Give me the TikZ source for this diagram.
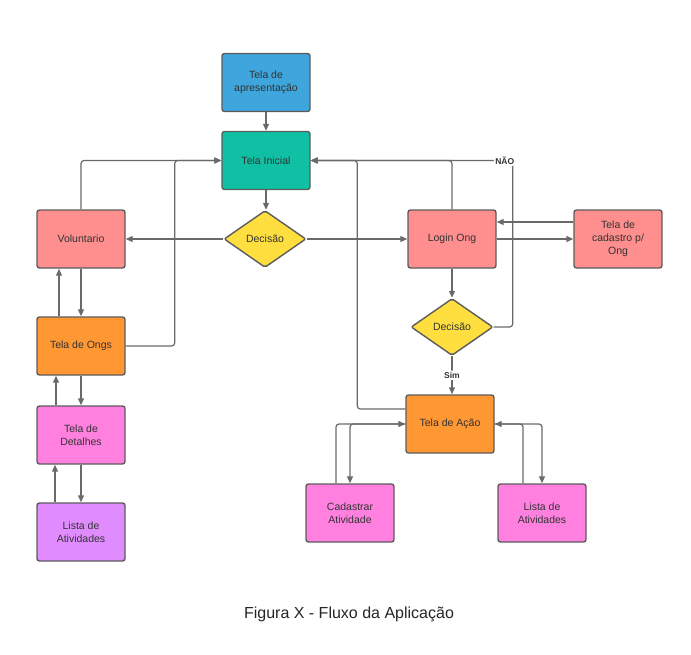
\documentclass[tikz,border=0pt]{standalone}
\usepackage{fontspec}
\setmainfont{Liberation Sans}
\usepackage{tikz}
\usetikzlibrary{positioning,
				arrows.meta,
				shapes.geometric}
\definecolor{azul}{HTML}{3EA6DC}
\definecolor{verde}{HTML}{10C0A4}
\definecolor{amarelo}{HTML}{FFDF40}
\definecolor{salmao}{HTML}{FF8E8E}
\definecolor{laranja}{HTML}{FF9833}
\definecolor{rosa}{HTML}{FF80DF}
\definecolor{lilas}{HTML}{E08CFF}
\definecolor{borda}{HTML}{5C5C5C}
\definecolor{linha}{HTML}{6A6A6A}
\definecolor{texto}{HTML}{333333}

\begin{document}
\begin{tikzpicture}[x=1pt,y=-1pt,
  caixa/.style={draw=borda, line width=1.4pt, rounded corners=2.5pt,
    minimum width=88pt, minimum height=58pt, align=center,
    font=\fontsize{10.5}{13}\selectfont, text=texto},
  losango/.style={diamond, draw=borda, line width=1.4pt, rounded corners=2pt,
    minimum width=82pt, minimum height=57pt, inner sep=0pt, fill=amarelo,
    font=\fontsize{10.5}{13}\selectfont, text=texto},
  seta/.style={draw=linha, line width=1.2pt, rounded corners=3pt,
    -{Triangle[length=7pt,width=6pt]}},
  rot/.style={font=\fontsize{8.5}{10}\selectfont\bfseries, text=texto,
    fill=white, inner sep=1.5pt}]
  \useasboundingbox (0,0) rectangle (691,654);

  % left column
  \node[caixa, fill=azul] (apres) at (266,82.5) {Tela de\\apresentação};
  \node[caixa, fill=verde] (inicial) at (266,160.5) {Tela Inicial};
  \node[losango] (dec1) at (265,239) {Decisão};
  \node[caixa, fill=salmao] (volunt) at (81,239) {Voluntario};
  \node[caixa, fill=laranja] (ongs) at (81,346) {Tela de Ongs};
  \node[caixa, fill=rosa] (detalhes) at (81,435) {Tela de\\Detalhes};
  \node[caixa, fill=lilas] (listaA) at (81,532) {Lista de\\Atividades};

  % right column
  \node[caixa, fill=salmao] (login) at (452,239) {Login Ong};
  \node[caixa, fill=salmao] (cadastro) at (618,239) {Tela de\\cadastro p/\\Ong};
  \node[losango] (dec2) at (452,327) {Decisão};
  \node[caixa, fill=laranja] (acao) at (450,424) {Tela de Ação};
  \node[caixa, fill=rosa] (cadAtiv) at (350,513) {Cadastrar\\Atividade};
  \node[caixa, fill=rosa] (listaB) at (542,513) {Lista de\\Atividades};

  \node[font=\fontsize{16}{19}\selectfont, text=black!85] (legenda) at (349,614)
    {Figura X - Fluxo da Aplicação};

  % connectors
  \draw[seta] (apres.south) -- (inicial.north);
  \draw[seta] (inicial.south) -- (inicial.south |- dec1.north);
  \draw[seta] (dec1.west) -- (volunt.east);
  \draw[seta] (dec1.east) -- (login.west);
  \draw[seta] (volunt.north) |- (inicial.west);
  \draw[seta] (ongs.east) -- ++(49,0) |- (inicial.west);

  \draw[seta] (volunt.south) -- (ongs.north);
  \draw[seta] ([xshift=-22pt]ongs.north) -- ([xshift=-22pt]volunt.south);
  \draw[seta] (ongs.south) -- (detalhes.north);
  \draw[seta] ([xshift=-25pt]detalhes.north) -- ([xshift=-25pt]ongs.south);
  \draw[seta] (detalhes.south) -- (listaA.north);
  \draw[seta] ([xshift=-26pt]listaA.north) -- ([xshift=-26pt]detalhes.south);

  \draw[seta] (login.north) |- (inicial.east);
  \draw[seta] ([yshift=15pt]acao.west) -- ++(-48,0) |- (inicial.east);
  \draw[seta] (dec2.east) -- ++(19,0) |- node[rot, xshift=-8pt]{NÃO} (inicial.east);

  \draw[seta] (login.east) -- (cadastro.west);
  \draw[seta] ([yshift=17pt]cadastro.west) -- ([yshift=17pt]login.east);
  \draw[seta] (login.south) -- (dec2.north);
  \draw[seta] (dec2.south) -- node[rot]{Sim} (dec2.south |- acao.north);

  \draw[seta] ([xshift=-14pt]cadAtiv.north) |- (acao.west);
  \draw[seta] (acao.west) -| (cadAtiv.north);
  \draw[seta] ([xshift=-19pt]listaB.north) |- (acao.east);
  \draw[seta] (acao.east) -| (listaB.north);
\end{tikzpicture}
\end{document}
